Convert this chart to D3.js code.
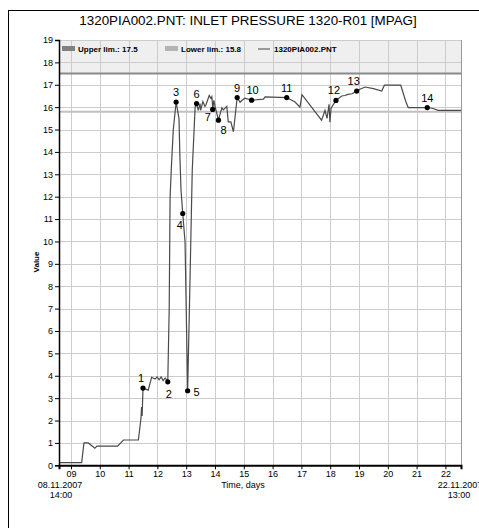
<!DOCTYPE html>
<html>
<head>
<meta charset="utf-8">
<script src="https://cdn.jsdelivr.net/npm/d3@7"></script>
<style>
	body { margin: 0; background: #fff; }
	text { font-family: "Liberation Sans", Arial, sans-serif; }
</style>
</head>
<body>
<div class="chart"></div>
<script>
// time as day of November 2007 (decimal), value in MPAG
const times = [8.583, 9.37, 9.45, 9.60, 9.83, 9.90, 10.62, 10.82, 11.34, 11.43, 11.45, 11.47, 11.50,
	11.68, 11.80, 11.92, 11.99, 12.06, 12.13, 12.20, 12.27, 12.36,
	12.41, 12.44, 12.48, 12.55, 12.65, 12.75, 12.78, 12.82, 12.88, 12.96, 13.05,
	13.13, 13.21, 13.31, 13.36, 13.42, 13.48, 13.50, 13.58, 13.65, 13.69, 13.80, 13.86, 13.89, 13.91, 13.92,
	13.96, 14.00, 14.12, 14.20, 14.24, 14.29, 14.41, 14.46, 14.55, 14.64, 14.77, 14.87, 14.94, 15.04, 15.27,
	15.68, 15.74, 16.49, 16.78, 16.95, 17.02, 17.70, 17.82, 17.89, 17.96, 17.99, 18.03, 18.20,
	18.40, 18.51, 18.62, 18.76, 18.92, 19.03, 19.21, 19.50, 19.79, 19.88, 20.45, 20.54, 20.63, 20.71,
	21.37, 21.54, 21.75, 22.54];
const values = [0.12, 0.12, 1.0, 1.0, 0.76, 0.86, 0.86, 1.13, 1.13, 2.1, 2.6, 2.2, 3.45,
	3.36, 3.93, 3.85, 3.95, 3.82, 3.95, 3.78, 3.9, 3.73,
	6.98, 11.93, 13.18, 14.97, 16.23, 15.49, 13.85, 12.3, 11.25, 9.98, 3.33,
	8.14, 13.18, 16.0, 16.16, 15.86, 16.16, 15.86, 16.25, 16.03, 16.12, 16.52, 16.39, 16.47, 16.17, 15.9,
	16.3, 16.05, 15.42, 15.8, 15.97, 15.88, 16.04, 15.34, 15.34, 14.9, 16.43, 16.22, 16.31, 16.4, 16.31,
	16.36, 16.46, 16.43, 16.23, 16.0, 16.56, 15.42, 15.86, 15.5, 16.13, 15.33, 15.95, 16.3,
	16.5, 16.52, 16.57, 16.6, 16.72, 16.8, 16.9, 16.83, 16.72, 16.98, 16.98, 16.6, 16.23, 15.98,
	15.98, 15.95, 15.86, 15.86];

const markTimes = [11.50, 12.36, 12.65, 12.88, 13.05, 13.36, 13.92, 14.12, 14.77, 15.27, 16.49, 18.20, 18.92, 21.37];
const markValues = [3.45, 3.73, 16.23, 11.25, 3.33, 16.16, 15.9, 15.42, 16.43, 16.31, 16.43, 16.3, 16.72, 15.98];
// label placement for each numbered point (dx, dy)
const markOffsets = [[-2, -6], [1, 16], [0, -6], [-3, 16], [9, 5], [0, -6], [-5, 12], [5, 14],
	[0, -6], [1, -6], [0, -6], [-2, -6], [-3, -6], [0, -6]];

const dayTicks = d3.range(9, 23);
const yTicks = d3.range(0, 20);
const upperLim = 17.5;
const lowerLim = 15.8;
const seriesName = '1320PIA002.PNT';

chart();

function chart() {
	const width = 479;
	const height = 528;
	const left = 59, right = 461, top = 40, bottom = 465.3;

	const svg = d3.select('.chart')
		.append('svg')
		.attr('width', width)
		.attr('height', height);

	const x = d3.scaleLinear().domain([8 + 14 / 24, 22 + 13 / 24]).range([left, right]);
	const y = d3.scaleLinear().domain([0, 19]).range([bottom, top]);

	// outer frame
	svg.append('rect')
		.attr('x', 8.5).attr('y', 10.5)
		.attr('width', 600).attr('height', 600)
		.attr('fill', 'none').attr('stroke', '#000');

	svg.append('text')
		.attr('x', 248).attr('y', 25)
		.attr('text-anchor', 'middle')
		.style('font-size', '13.4px')
		.text('1320PIA002.PNT: INLET PRESSURE 1320-R01 [MPAG]');

	// band above the upper limit
	svg.append('rect')
		.attr('x', left).attr('y', top)
		.attr('width', right - left).attr('height', y(upperLim) - top)
		.attr('fill', '#efefef');

	// grid
	svg.append('g')
		.selectAll('line')
		.data(yTicks.slice(1))
		.enter()
		.append('line')
		.attr('x1', left).attr('x2', right)
		.attr('y1', d => Math.round(y(d)) + 0.5).attr('y2', d => Math.round(y(d)) + 0.5)
		.attr('stroke', '#cccccc');
	svg.append('g')
		.selectAll('line')
		.data(dayTicks)
		.enter()
		.append('line')
		.attr('x1', d => Math.round(x(d)) + 0.5).attr('x2', d => Math.round(x(d)) + 0.5)
		.attr('y1', top).attr('y2', bottom)
		.attr('stroke', '#cccccc');

	// limit lines
	svg.append('line')
		.attr('x1', left).attr('x2', right)
		.attr('y1', y(upperLim)).attr('y2', y(upperLim))
		.attr('stroke', '#8a8a8a').attr('stroke-width', 2);
	svg.append('line')
		.attr('x1', left).attr('x2', right)
		.attr('y1', y(lowerLim)).attr('y2', y(lowerLim))
		.attr('stroke', '#c0c0c0').attr('stroke-width', 2);

	// right border
	svg.append('line')
		.attr('x1', right + 0.5).attr('x2', right + 0.5)
		.attr('y1', top).attr('y2', bottom)
		.attr('stroke', '#999');

	// legend
	const legend = svg.append('g').style('font-size', '8px').style('font-weight', 'bold');
	legend.append('rect').attr('x', 62).attr('y', 46).attr('width', 13).attr('height', 5).attr('fill', '#808080');
	legend.append('text').attr('x', 78).attr('y', 51.5).text('Upper lim.: ' + upperLim);
	legend.append('rect').attr('x', 165).attr('y', 46).attr('width', 13).attr('height', 5).attr('fill', '#b4b4b4');
	legend.append('text').attr('x', 181).attr('y', 51.5).text('Lower lim.: ' + lowerLim);
	legend.append('line').attr('x1', 258).attr('x2', 270).attr('y1', 49).attr('y2', 49)
		.attr('stroke', '#444').attr('stroke-width', 1);
	legend.append('text').attr('x', 274).attr('y', 51.5).text(seriesName);

	// series line
	const pts = times.map((t, i) => [t, values[i]]);
	svg.append('path')
		.datum(pts)
		.attr('d', d3.line().x(d => x(d[0])).y(d => y(d[1])))
		.attr('fill', 'none')
		.attr('stroke', '#4a4a4a')
		.attr('stroke-width', 1.2);

	// axes
	const yAxis = svg.append('g')
		.attr('transform', `translate(${left},0)`)
		.call(d3.axisLeft(y).tickValues(yTicks).tickSize(4).tickPadding(2));
	yAxis.select('.domain').attr('stroke', '#000').attr('stroke-width', 1.5);
	yAxis.selectAll('text').style('font-size', '9px').attr('fill', '#000');

	const xAxis = svg.append('g')
		.attr('transform', `translate(0,${bottom})`)
		.call(d3.axisBottom(x).tickValues(dayTicks).tickSize(4).tickPadding(1)
			.tickFormat(d => d3.format('02d')(d)));
	xAxis.select('.domain').attr('stroke', '#000').attr('stroke-width', 2);
	xAxis.selectAll('text').style('font-size', '9px').attr('fill', '#000');

	svg.append('text')
		.attr('transform', 'translate(39,262) rotate(-90)')
		.attr('text-anchor', 'middle')
		.style('font-size', '8px').style('font-weight', 'bold')
		.text('Value');

	const xl = svg.append('g').style('font-size', '9px').attr('text-anchor', 'middle');
	xl.append('text').attr('x', 60).attr('y', 488).text('08.11.2007');
	xl.append('text').attr('x', 61).attr('y', 498).text('14:00');
	xl.append('text').attr('x', 460).attr('y', 488).text('22.11.2007');
	xl.append('text').attr('x', 459).attr('y', 498).text('13:00');
	xl.append('text').attr('x', 243).attr('y', 488).text('Time, days');

	// numbered points
	const marks = markTimes.map((t, i) => ({ t: t, v: markValues[i], n: i + 1, off: markOffsets[i] }));
	svg.selectAll('circle.mark')
		.data(marks)
		.enter()
		.append('circle')
		.attr('class', 'mark')
		.attr('cx', d => x(d.t))
		.attr('cy', d => y(d.v))
		.attr('r', 2.6)
		.attr('fill', '#000');
	svg.selectAll('text.mark')
		.data(marks)
		.enter()
		.append('text')
		.attr('class', 'mark')
		.attr('x', d => x(d.t) + d.off[0])
		.attr('y', d => y(d.v) + d.off[1])
		.attr('text-anchor', 'middle')
		.style('font-size', '11px')
		.text(d => d.n);
}
</script>
</body>
</html>
